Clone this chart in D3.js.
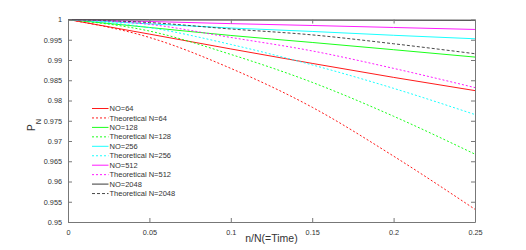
<!DOCTYPE html>
<html>
<head>
<meta charset="utf-8">
<script src="https://cdn.jsdelivr.net/npm/d3@7"></script>
<style>
  body { margin: 0; background: #fff; }
  svg { display: block; font-family: "Liberation Sans", Arial, sans-serif; }
  .axis path, .axis line { stroke: #777; }
  .axis text { fill: #333; font-size: 7.3px; }
</style>
</head>
<body>
<svg id="chart" width="526" height="250"></svg>
<script>
const times = [0, 0.05, 0.1, 0.15, 0.2, 0.25];

const no64 = [1, 0.99640, 0.99273, 0.98916, 0.98571, 0.98244];
const theo64 = [1, 0.99557, 0.98793, 0.97833, 0.96626, 0.95313];
const no128 = [1, 0.99803, 0.99606, 0.99433, 0.99254, 0.99072];
const theo128 = [1, 0.99715, 0.99138, 0.98448, 0.97611, 0.96675];
const no256 = [1, 0.99892, 0.99790, 0.99705, 0.99610, 0.99524];
const theo256 = [1, 0.99800, 0.99384, 0.98879, 0.98300, 0.97653];
const no512 = [1, 0.99951, 0.99898, 0.99852, 0.99803, 0.99754];
const theo512 = [1, 0.99880, 0.99557, 0.99224, 0.98793, 0.98318];
const no2048 = [1, 0.99995, 0.99990, 0.99985, 0.99980, 0.99975];
const theo2048 = [1, 0.99925, 0.99766, 0.99620, 0.99401, 0.99155];

const xTicks = [0, 0.05, 0.1, 0.15, 0.2, 0.25];
const yTicks = [0.95, 0.955, 0.96, 0.965, 0.97, 0.975, 0.98, 0.985, 0.99, 0.995, 1];

const series = [
  { name: "NO=64", values: no64, color: "#ff0000", dashed: false },
  { name: "Theoretical N=64", values: theo64, color: "#ff0000", dashed: true },
  { name: "NO=128", values: no128, color: "#00ff00", dashed: false },
  { name: "Theoretical N=128", values: theo128, color: "#00ff00", dashed: true },
  { name: "NO=256", values: no256, color: "#00ffff", dashed: false },
  { name: "Theoretical N=256", values: theo256, color: "#00ffff", dashed: true },
  { name: "NO=512", values: no512, color: "#ff00ff", dashed: false },
  { name: "Theoretical N=512", values: theo512, color: "#ff00ff", dashed: true },
  { name: "NO=2048", values: no2048, color: "#000000", dashed: false },
  { name: "Theoretical N=2048", values: theo2048, color: "#000000", dashed: true }
];

const margin = { left: 68, top: 19.5, right: 51, bottom: 28 };
const width = 526 - margin.left - margin.right;
const height = 250 - margin.top - margin.bottom;

const svg = d3.select("#chart");
const g = svg.append("g").attr("transform", `translate(${margin.left},${margin.top})`);

const x = d3.scaleLinear().domain([0, 0.25]).range([0, width]);
const y = d3.scaleLinear().domain([0.95, 1]).range([height, 0]);

const fmt = d => d3.format("")(+d.toFixed(3));
const dash = s => s.dashed ? (s.color === "#000000" ? "3,2" : "2,2") : null;
const strokeColor = s => s.color === "#000000" ? (s.dashed ? "#333" : "#222") : s.color;

// lines
const line = d3.line()
  .x((d, i) => x(times[i]))
  .y(d => y(d))
  .curve(d3.curveMonotoneX);

g.append("g")
  .selectAll("path")
  .data(series)
  .enter()
  .append("path")
  .attr("fill", "none")
  .attr("stroke", strokeColor)
  .attr("stroke-width", 0.9)
  .attr("stroke-dasharray", dash)
  .attr("d", s => line(s.values));

// axes (box with inward ticks)
g.append("g").attr("class", "axis")
  .attr("transform", `translate(0,${height})`)
  .call(d3.axisBottom(x).tickValues(xTicks).tickFormat(fmt).tickSizeInner(-4).tickSizeOuter(0).tickPadding(7.5));

g.append("g").attr("class", "axis")
  .call(d3.axisTop(x).tickValues(xTicks).tickFormat("").tickSizeInner(-4).tickSizeOuter(0));

g.append("g").attr("class", "axis")
  .call(d3.axisLeft(y).tickValues(yTicks).tickFormat(fmt).tickSizeInner(-4).tickSizeOuter(0).tickPadding(6));

g.append("g").attr("class", "axis")
  .attr("transform", `translate(${width},0)`)
  .call(d3.axisRight(y).tickValues(yTicks).tickFormat("").tickSizeInner(-4).tickSizeOuter(0));

// axis labels
svg.append("text")
  .attr("x", margin.left + width / 2)
  .attr("y", 242)
  .attr("text-anchor", "middle")
  .attr("font-size", 10.5)
  .attr("fill", "#333")
  .text("n/N(=Time)");

const yl = svg.append("text")
  .attr("transform", "translate(34.5,131) rotate(-90)")
  .attr("font-size", 10)
  .attr("fill", "#333");
yl.append("tspan").text("P");
yl.append("tspan").attr("font-size", 7.3).attr("dy", 6).text("N");

// legend
const legend = svg.append("g").attr("transform", "translate(92,108.5)");
const rows = legend.selectAll("g")
  .data(series)
  .enter()
  .append("g")
  .attr("transform", (s, i) => `translate(0,${i * 9.45})`);

rows.append("line")
  .attr("x1", 0).attr("x2", 16.5)
  .attr("stroke", strokeColor)
  .attr("stroke-width", 0.9)
  .attr("stroke-dasharray", dash);

rows.append("text")
  .attr("x", 17.5)
  .attr("dy", "0.35em")
  .attr("font-size", 7.5)
  .attr("fill", "#333")
  .text(s => s.name);
</script>
</body>
</html>
